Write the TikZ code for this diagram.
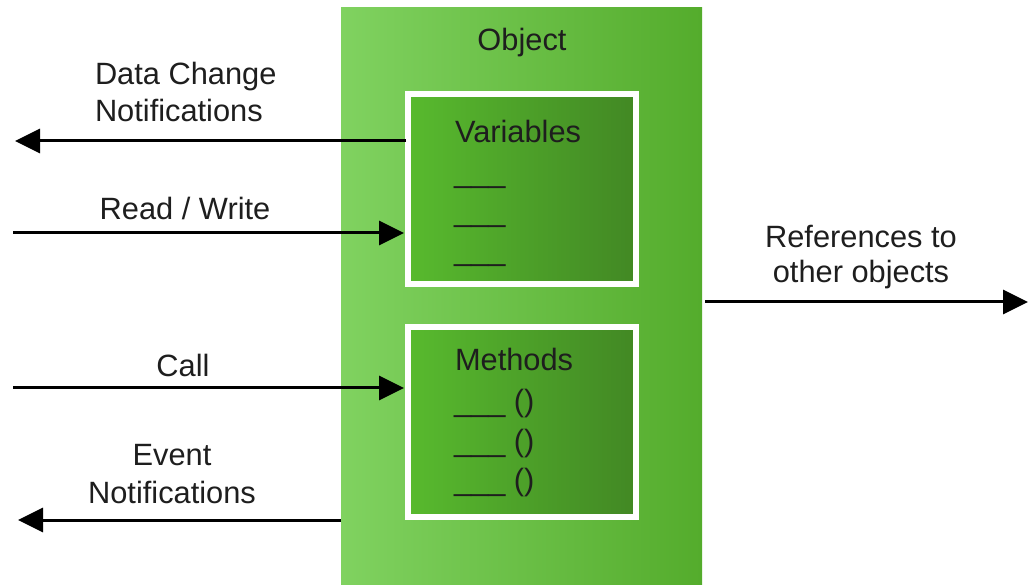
\documentclass[tikz,border=0pt]{standalone}
\usepackage{fontspec}
\setmainfont{Liberation Sans}
\usetikzlibrary{arrows.meta}
\definecolor{outerL}{RGB}{128,210,96}
\definecolor{outerR}{RGB}{84,172,44}
\definecolor{innerL}{RGB}{88,186,46}
\definecolor{innerR}{RGB}{66,136,36}
\definecolor{txt}{RGB}{30,30,30}
\begin{document}
\begin{tikzpicture}[x=1pt,y=-1pt,
  lbl/.style={font=\fontsize{30.8}{36}\selectfont, text=txt, inner sep=0pt, outer sep=0pt},
  arr/.style={line width=3pt, -{Triangle[length=25pt,width=24pt]}},
  innerbox/.style={draw=white, line width=6.5pt, left color=innerL, right color=innerR,
    minimum width=228pt, minimum height=190pt, inner sep=0pt, outer sep=0pt, anchor=north west}
]
\useasboundingbox (0,0) rectangle (1029,585);
\fill[white] (0,0) rectangle (1029,585);
% object
\node[left color=outerL, right color=outerR, minimum width=361pt, minimum height=577pt,
  inner sep=0pt, outer sep=0pt, anchor=north west] (obj) at (341,8) {};
\node[lbl, anchor=base] (objt) at (522,51) {Object};
% inner boxes
\node[innerbox] (vars) at (408,94) {};
\node[innerbox] (meth) at (408,327) {};
\node[lbl, anchor=base west] (vt) at (455,143) {Variables};
\node[lbl, anchor=base west] (v1) at (454,183) {\_\_\_};
\node[lbl, anchor=base west] (v2) at (454,222) {\_\_\_};
\node[lbl, anchor=base west] (v3) at (454,261) {\_\_\_};
\node[lbl, anchor=base west] (mt) at (455,371) {Methods};
\node[lbl, anchor=base west] (m1) at (454,412) {\_\_\_ ()};
\node[lbl, anchor=base west] (m2) at (454,451) {\_\_\_ ()};
\node[lbl, anchor=base west] (m3) at (454,490) {\_\_\_ ()};
% free ends
\coordinate (dcend) at (15,141);
\coordinate (rwstart) at (13,233);
\coordinate (callstart) at (13,388);
\coordinate (evend) at (18,520);
\coordinate (refend) at (1028,302);
% arrows
\draw[arr] (vars.west |- dcend) ++(-2,0) -- (dcend);
\draw[arr] (rwstart) -- ([xshift=-4pt]vars.west |- rwstart);
\draw[arr] (callstart) -- ([xshift=-4pt]meth.west |- callstart);
\draw[arr] (obj.west |- evend) -- (evend);
\draw[arr] ([xshift=3pt]obj.east |- refend) -- (refend);
% labels
\node[lbl, anchor=base west] (dc1) at (95,85) {Data Change};
\node[lbl, anchor=base west] (dc2) at (95,122) {Notifications};
\node[lbl, anchor=base] (rw) at (185,220) {Read / Write};
\node[lbl, anchor=base] (cl) at (183,377) {Call};
\node[lbl, anchor=base] (ev1) at (172,465) {Event};
\node[lbl, anchor=base] (ev2) at (172,503) {Notifications};
\node[lbl, anchor=base] (rf1) at (861,248) {References to};
\node[lbl, anchor=base] (rf2) at (861,283) {other objects};
\end{tikzpicture}
\end{document}
